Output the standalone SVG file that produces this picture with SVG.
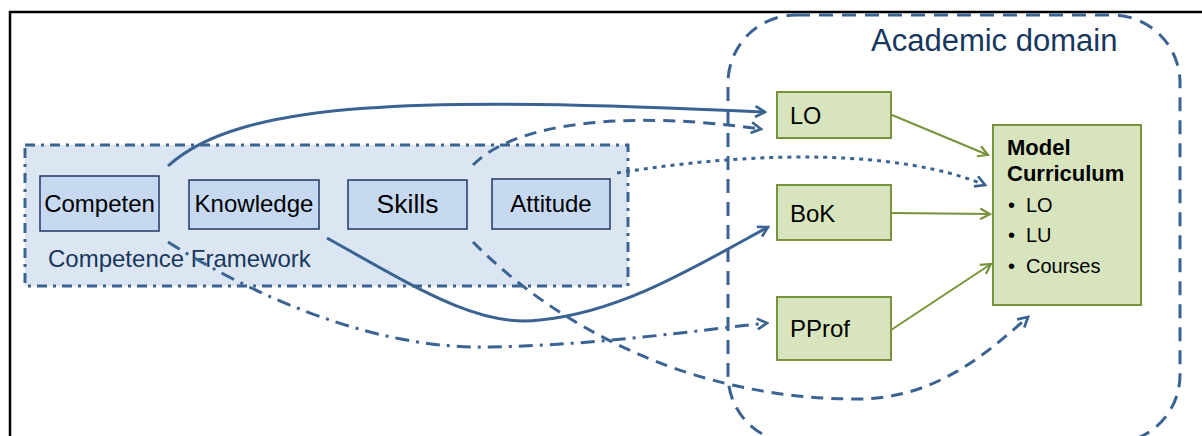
<svg xmlns="http://www.w3.org/2000/svg" width="1202" height="436" viewBox="0 0 1202 436">
  <defs>
    <style>
      .frame { fill: none; stroke: #000; stroke-width: 2.5; }
      .cf { fill: #dce6f2; stroke: #3b6392; stroke-width: 3; stroke-dasharray: 10 6 3 6; }
      .ad { fill: none; stroke: #3b6392; stroke-width: 3; stroke-dasharray: 14 9; }
      .bnode { fill: #c6d9f1; stroke: #1f3864; stroke-width: 1.5; }
      .gnode { fill: #d7e4bd; stroke: #77933c; stroke-width: 2; }
      .txt { font-family: "Liberation Sans", Arial, sans-serif; fill: #000; }
      .navy { font-family: "Liberation Sans", Arial, sans-serif; fill: #17375e; }
      .blue { fill: none; stroke: #3b6392; stroke-width: 3; marker-end: url(#blueHead); }
      .green { fill: none; stroke: #77933c; stroke-width: 2; marker-end: url(#greenHead); }
    </style>
    <marker id="blueHead" viewBox="0 0 12 12" refX="10" refY="6" markerWidth="13" markerHeight="13" markerUnits="userSpaceOnUse" orient="auto">
      <path d="M1,1 L10,6 L1,11" fill="none" stroke="#3b6392" stroke-width="2.5"/>
    </marker>
    <marker id="greenHead" viewBox="0 0 12 12" refX="10" refY="6" markerWidth="13" markerHeight="13" markerUnits="userSpaceOnUse" orient="auto">
      <path d="M1,1 L10,6 L1,11" fill="none" stroke="#77933c" stroke-width="2"/>
    </marker>
  </defs>

  <rect class="frame" x="10" y="12" width="1200" height="440"/>

  <!-- Competence framework container -->
  <g id="competence-framework">
    <rect class="cf" x="25" y="145" width="603" height="141"/>
    <text class="navy" x="48" y="267" font-size="24">Competence Framework</text>
  </g>

  <!-- Academic domain container -->
  <g id="academic-domain">
    <rect class="ad" x="728" y="15" width="452" height="428" rx="68" ry="68"/>
    <text class="navy" x="871" y="51" font-size="31">Academic domain</text>
  </g>

  <g id="competen">
    <rect class="bnode" x="40" y="176" width="119" height="55"/>
    <text class="txt" x="99.5" y="212" font-size="24" text-anchor="middle">Competen</text>
  </g>
  <g id="knowledge">
    <rect class="bnode" x="189" y="180" width="130" height="49"/>
    <text class="txt" x="254" y="212" font-size="24" text-anchor="middle">Knowledge</text>
  </g>
  <g id="skills">
    <rect class="bnode" x="348" y="180" width="119" height="49"/>
    <text class="txt" x="407.5" y="213" font-size="26.5" text-anchor="middle">Skills</text>
  </g>
  <g id="attitude">
    <rect class="bnode" x="492" y="179" width="118" height="50"/>
    <text class="txt" x="551" y="212" font-size="24" text-anchor="middle">Attitude</text>
  </g>

  <g id="lo">
    <rect class="gnode" x="777" y="92" width="114" height="46"/>
    <text class="txt" x="790" y="124" font-size="23.5">LO</text>
  </g>
  <g id="bok">
    <rect class="gnode" x="777" y="185" width="114" height="55"/>
    <text class="txt" x="790" y="222" font-size="24">BoK</text>
  </g>
  <g id="pprof">
    <rect class="gnode" x="777" y="297" width="114" height="63"/>
    <text class="txt" x="790" y="337" font-size="24">PProf</text>
  </g>
  <g id="model-curriculum">
    <rect class="gnode" x="993" y="125" width="148" height="180"/>
    <text class="txt" x="1007" y="155" font-size="22" font-weight="bold">Model</text>
    <text class="txt" x="1007" y="181" font-size="22" font-weight="bold">Curriculum</text>
    <text class="txt" x="1008" y="212" font-size="20">•</text>
    <text class="txt" x="1026" y="212" font-size="20">LO</text>
    <text class="txt" x="1008" y="242" font-size="20">•</text>
    <text class="txt" x="1026" y="242" font-size="20">LU</text>
    <text class="txt" x="1008" y="273" font-size="20">•</text>
    <text class="txt" x="1026" y="273" font-size="20">Courses</text>
  </g>

  <g id="connectors">
    <!-- framework to academic domain -->
    <path class="blue" d="M168,166 C240,100 420,96 765,112"/>
    <path class="blue" d="M473,165 C520,118 640,112 761,129" stroke-dasharray="12 8"/>
    <path class="blue" d="M617,173 C760,150 900,150 985,185" stroke-dasharray="4 5"/>
    <path class="blue" d="M327,238 C420,290 480,328 540,320 C620,312 690,270 768,227"/>
    <path class="blue" d="M168,242 C260,300 380,350 490,347 C600,345 700,330 767,323" stroke-dasharray="14 7 3 7"/>
    <path class="blue" d="M473,242 C555,325 690,400 860,399 C935,398 985,355 1028,317" stroke-dasharray="12 8"/>
    <!-- academic elements to model curriculum -->
    <path class="green" d="M892,115 L988,155"/>
    <path class="green" d="M892,213 L990,214"/>
    <path class="green" d="M891,330 L991,264"/>
  </g>
</svg>
